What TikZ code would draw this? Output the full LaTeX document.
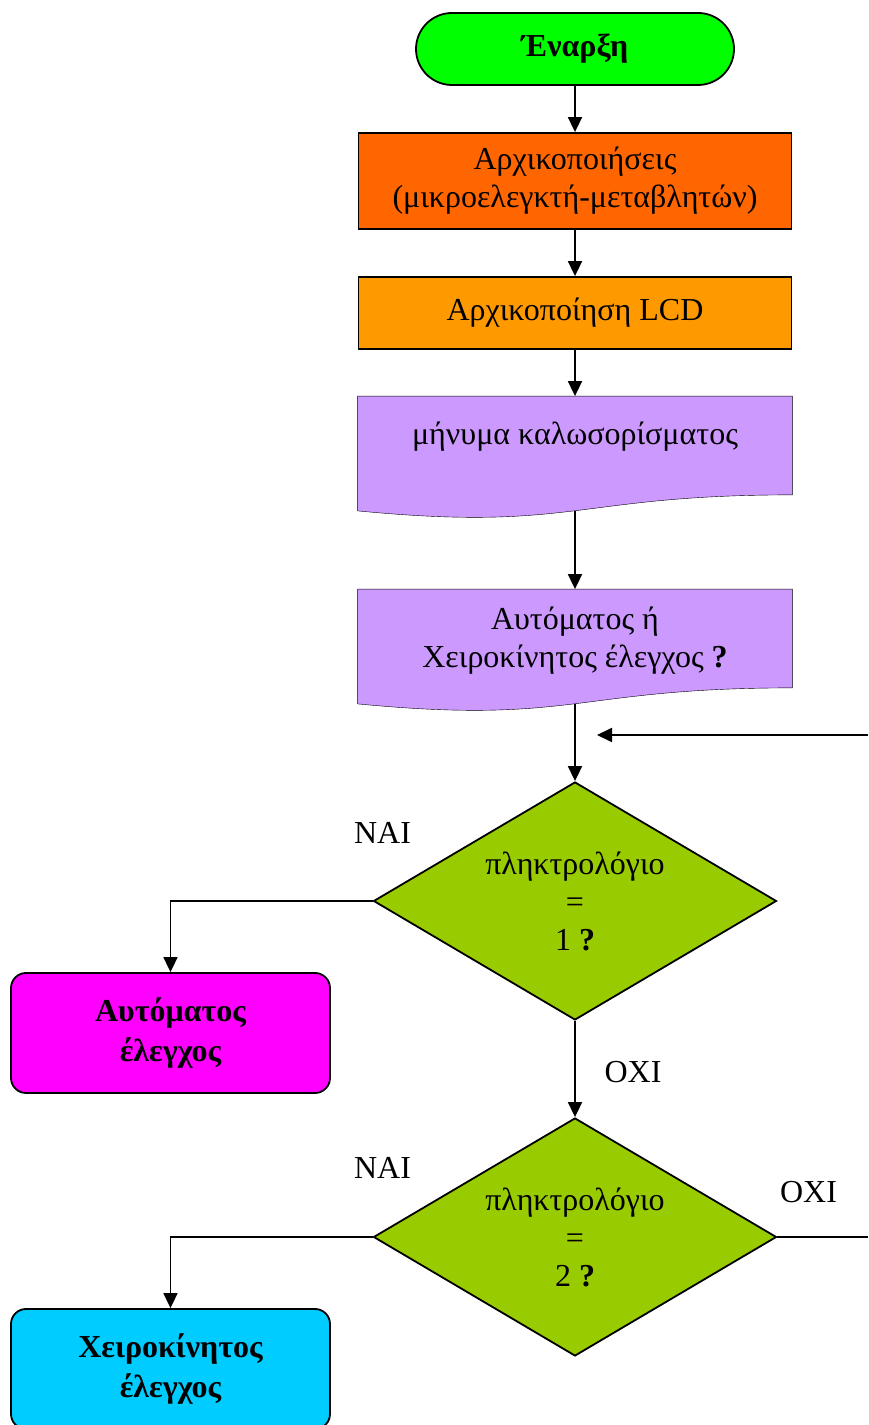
\documentclass[tikz,border=0pt]{standalone}
\usepackage{fontspec}
\setmainfont{Liberation Serif}
\usepackage{tikz}
\usetikzlibrary{arrows.meta, shapes.geometric, backgrounds}

\definecolor{startgreen}{HTML}{00FF00}
\definecolor{initred}{HTML}{FF6600}
\definecolor{lcdorange}{HTML}{FF9900}
\definecolor{msgpurple}{HTML}{CC99FF}
\definecolor{testgreen}{HTML}{99CC00}
\definecolor{automagenta}{HTML}{FF00FF}
\definecolor{manualcyan}{HTML}{00CCFF}

\begin{document}
\begin{tikzpicture}[x=1pt, y=1pt, line width=1.8pt,
  every node/.style={font=\fontsize{32}{38}\selectfont, align=center},
  box/.style={draw, rectangle, minimum width=433pt, minimum height=#1},
  docbox/.style={rectangle, minimum width=433pt, minimum height=121pt, text depth=#1},
  test/.style={draw, diamond, fill=testgreen, aspect=1.7, minimum width=403pt, minimum height=238pt, inner sep=0pt},
  mode/.style={draw, rectangle, rounded corners=15pt, minimum width=319pt, minimum height=120pt, font=\fontsize{32}{40}\selectfont\bfseries},
  flow/.style={-{Triangle[length=15pt, width=14pt]}}]
  \useasboundingbox (0,0) rectangle (868,1425);

  \node[box=72pt, fill=startgreen, rounded corners=36pt, minimum width=318pt, font=\fontsize{32}{38}\selectfont\bfseries] (start) at (575,1376) {Έναρξη};
  \node[box=96pt, fill=initred] (init) at (575,1244) {Αρχικοποιήσεις\\(μικροελεγκτή-μεταβλητών)};
  \node[box=72pt, fill=lcdorange] (lcd) at (575,1112) {Αρχικοποίηση LCD};
  \node[docbox=50pt, text height=25pt] (msg) at (575,967.5) {μήνυμα καλωσορίσματος};
  \node[docbox=28pt, text height=63pt] (ask) at (575,774.5) {Αυτόματος ή\\Χειροκίνητος έλεγχος \textbf{?}};
  \node[test] (key1) at (575,524) {πληκτρολόγιο\\=\\1 \textbf{?}};
  \node[test] (key2) at (575,188) {πληκτρολόγιο\\=\\2 \textbf{?}};
  \node[mode, fill=automagenta] (auto) at (170.5,392) {Αυτόματος\\έλεγχος};
  \node[mode, fill=manualcyan] (manual) at (170.5,56) {Χειροκίνητος\\έλεγχος};

  \node (yes1) at (382.5,592.5) {ΝΑΙ};
  \node (no1) at (633,353) {ΟΧΙ};
  \node (yes2) at (382.5,257) {ΝΑΙ};
  \node (no2) at (808.5,233) {ΟΧΙ};

  \coordinate (loopin) at (868,690);
  \coordinate (looptip) at (597,690);
  \coordinate (loopout) at (868,188);

  % document shapes behind the text
  \begin{scope}[on background layer]
    \foreach \doc in {msg, ask}
      \draw[fill=msgpurple] (\doc.north west) -- (\doc.north east) -- ([yshift=24pt]\doc.south east)
        .. controls ([yshift=24pt]\doc.south) and ([yshift=-13pt]\doc.south) .. ([yshift=8pt]\doc.south west) -- cycle;
  \end{scope}

  \draw[flow] (start) -- (init);
  \draw[flow] (init) -- (lcd);
  \draw[flow] (lcd) -- (msg);
  \draw[flow] ([yshift=8pt]msg.south) -- (ask);
  \draw[flow] ([yshift=8pt]ask.south) -- (key1);
  \draw[flow] (loopin) -- (looptip);
  \draw[flow] (key1.west) -| (auto.north);
  \draw[flow] (key1) -- (key2);
  \draw[flow] (key2.west) -| (manual.north);
  \draw (key2.east) -- (loopout);
\end{tikzpicture}
\end{document}
